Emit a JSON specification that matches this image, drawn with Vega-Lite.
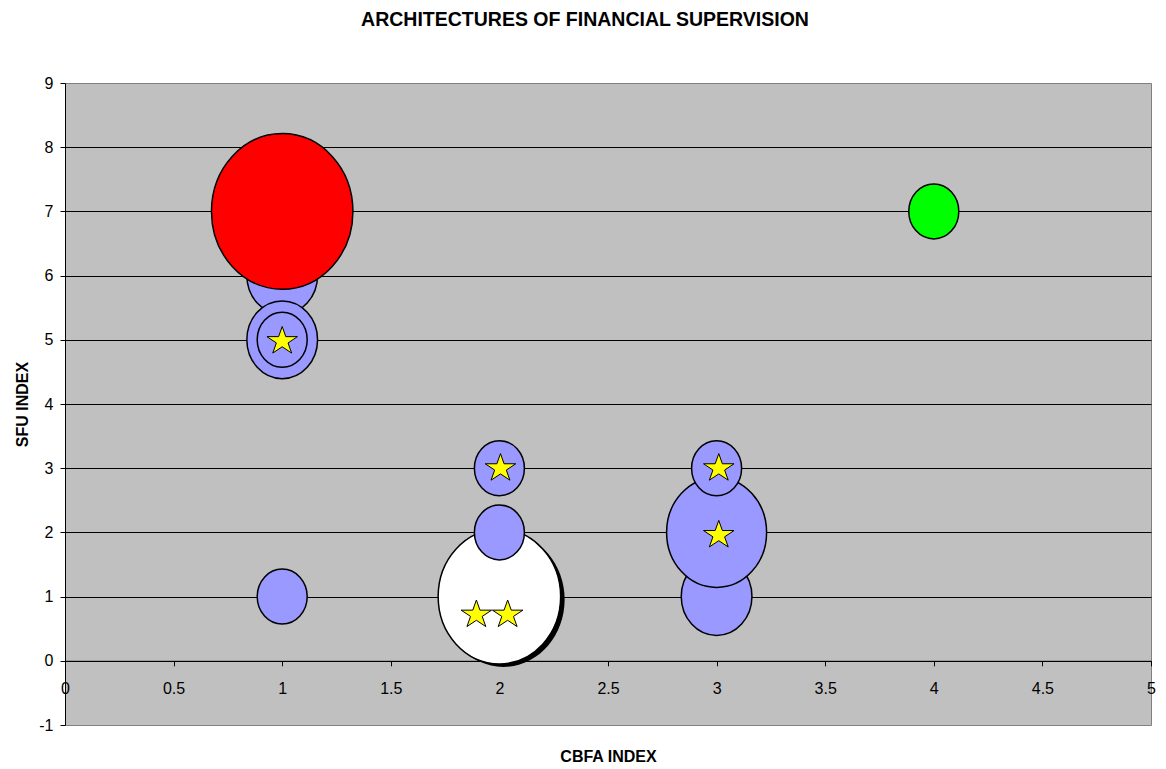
{
  "$schema": "https://vega.github.io/schema/vega-lite/v6.json",
  "width": 1086,
  "height": 642,
  "autosize": {"type": "none"},
  "padding": {"left": 65, "top": 83, "right": 15, "bottom": 44},
  "background": "white",
  "title": {
    "text": "ARCHITECTURES OF FINANCIAL SUPERVISION",
    "font": "Liberation Sans",
    "fontSize": 19.5,
    "fontWeight": "bold",
    "color": "black",
    "anchor": "middle",
    "frame": "group",
    "dx": -23,
    "baseline": "alphabetic",
    "offset": 30
  },
  "config": {
    "font": "Liberation Sans",
    "view": {"fill": "#C0C0C0", "stroke": "#808080", "strokeWidth": 1}
  },
  "datasets": {
    "bubbles": [
      {"x": 2, "y": 1, "bubble": 6, "group": "white"},
      {"x": 2, "y": 2, "bubble": 1, "group": "blue"},
      {"x": 2, "y": 3, "bubble": 1, "group": "blue"},
      {"x": 3, "y": 1, "bubble": 2, "group": "blue"},
      {"x": 3, "y": 2, "bubble": 4, "group": "blue"},
      {"x": 3, "y": 3, "bubble": 1, "group": "blue"},
      {"x": 1, "y": 1, "bubble": 1, "group": "blue"},
      {"x": 1, "y": 6, "bubble": 2, "group": "blue"},
      {"x": 1, "y": 7, "bubble": 8, "group": "red"},
      {"x": 1, "y": 5, "bubble": 2, "group": "blue"},
      {"x": 1, "y": 5, "bubble": 1, "group": "blue"},
      {"x": 4, "y": 7, "bubble": 1, "group": "green"}
    ],
    "stars": [
      {"x": 1.0, "y": 5.0},
      {"x": 2.005, "y": 3.02},
      {"x": 3.01, "y": 3.02},
      {"x": 3.01, "y": 1.98},
      {"x": 1.894, "y": 0.74},
      {"x": 2.038, "y": 0.74}
    ]
  },
  "encoding": {
    "x": {
      "field": "x",
      "type": "quantitative",
      "scale": {"domain": [0, 5], "nice": false, "zero": false},
      "axis": {
        "values": [0, 0.5, 1, 1.5, 2, 2.5, 3, 3.5, 4, 4.5, 5],
        "format": "~g",
        "offset": -64.2,
        "grid": false,
        "title": "CBFA INDEX",
        "titleY": 101,
        "titleBaseline": "alphabetic",
        "titleFont": "Liberation Sans",
        "titleFontSize": 16,
        "titleFontWeight": "bold",
        "titleColor": "black",
        "labelFont": "Liberation Sans",
        "labelFontSize": 16,
        "labelColor": "black",
        "labelBaseline": "alphabetic",
        "labelPadding": 28,
        "labelFlush": false,
        "labelOverlap": false,
        "tickSize": 5,
        "tickColor": "black",
        "domainColor": "black"
      }
    },
    "y": {
      "field": "y",
      "type": "quantitative",
      "scale": {"domain": [-1, 9], "nice": false, "zero": false},
      "axis": {
        "values": [-1, 0, 1, 2, 3, 4, 5, 6, 7, 8, 9],
        "labelExpr": "'' + datum.value",
        "grid": true,
        "gridColor": {"condition": {"test": "datum.value === 9 || datum.value === -1", "value": "rgba(0,0,0,0)"}, "value": "black"},
        "gridWidth": 1,
        "title": "SFU INDEX",
        "titleX": -38,
        "titleY": 321,
        "titleBaseline": "alphabetic",
        "titleFont": "Liberation Sans",
        "titleFontSize": 16,
        "titleFontWeight": "bold",
        "titleColor": "black",
        "labelFont": "Liberation Sans",
        "labelFontSize": 16,
        "labelColor": "black",
        "labelPadding": 7,
        "labelOverlap": false,
        "labelFlush": false,
        "tickSize": 5,
        "tickColor": "black",
        "domainColor": "black"
      }
    }
  },
  "layer": [
    {
      "data": {"name": "bubbles"},
      "transform": [{"filter": "datum.group === 'white'"}],
      "mark": {
        "type": "point",
        "shape": "M 1 0 C 1 0.6075 0.5523 1.1 0 1.1 C -0.5523 1.1 -1 0.6075 -1 0 C -1 -0.6075 -0.5523 -1.1 0 -1.1 C 0.5523 -1.1 1 -0.6075 1 0 Z",
        "filled": true,
        "fill": "black",
        "strokeWidth": 0,
        "opacity": 1,
        "xOffset": 4,
        "yOffset": 3
      },
      "encoding": {
        "size": {"field": "bubble", "type": "quantitative", "scale": {"type": "linear", "domain": [0, 8], "range": [0, 20000]}, "legend": null}
      }
    },
    {
      "data": {"name": "bubbles"},
      "mark": {
        "type": "point",
        "shape": "M 1 0 C 1 0.6075 0.5523 1.1 0 1.1 C -0.5523 1.1 -1 0.6075 -1 0 C -1 -0.6075 -0.5523 -1.1 0 -1.1 C 0.5523 -1.1 1 -0.6075 1 0 Z",
        "filled": true,
        "stroke": "black",
        "strokeWidth": 1.5,
        "opacity": 1
      },
      "encoding": {
        "fill": {"field": "group", "type": "nominal", "scale": {"domain": ["blue", "red", "green", "white"], "range": ["#9999FF", "#FF0000", "#00FF00", "#FFFFFF"]}, "legend": null},
        "size": {"field": "bubble", "type": "quantitative", "scale": {"type": "linear", "domain": [0, 8], "range": [0, 20000]}, "legend": null}
      }
    },
    {
      "data": {"name": "stars"},
      "mark": {
        "type": "point",
        "shape": "M 0 -0.828 L 0.2245 -0.196 L 0.9511 -0.196 L 0.3633 0.195 L 0.5878 0.827 L 0 0.436 L -0.5878 0.827 L -0.3633 0.195 L -0.9511 -0.196 L -0.2245 -0.196 Z",
        "filled": true,
        "fill": "#FFFF00",
        "stroke": "black",
        "strokeWidth": 1,
        "opacity": 1,
        "size": 1030
      }
    }
  ]
}
